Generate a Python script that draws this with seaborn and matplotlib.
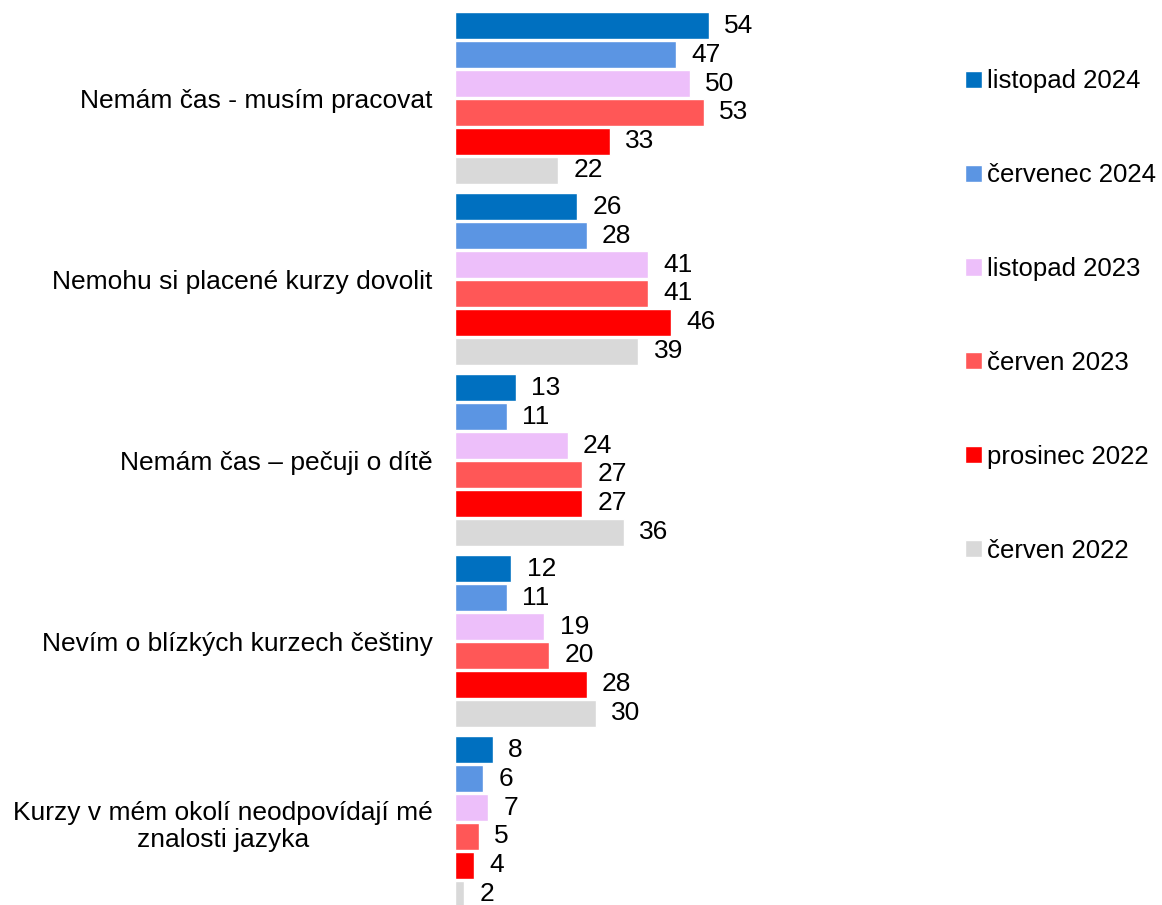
import pandas as pd
import numpy as np
import matplotlib
matplotlib.use("Agg")
import matplotlib.pyplot as plt
import seaborn as sns

# Kategorie a serie (hodnoty v %)
kategorie = [
    "Nemám čas - musím pracovat",
    "Nemohu si placené kurzy dovolit",
    "Nemám čas – pečuji o dítě",
    "Nevím o blízkých kurzech češtiny",
    "Kurzy v mém okolí neodpovídají mé\nznalosti jazyka",
]
obdobi = ["listopad 2024", "červenec 2024", "listopad 2023",
          "červen 2023", "prosinec 2022", "červen 2022"]

listopad_2024 = [54, 26, 13, 12, 8]
cervenec_2024 = [47, 28, 11, 11, 6]
listopad_2023 = [50, 41, 24, 19, 7]
cerven_2023 = [53, 41, 27, 20, 5]
prosinec_2022 = [33, 46, 27, 28, 4]
cerven_2022 = [22, 39, 36, 30, 2]

barvy = ["#0070C0", "#5B95E3", "#EDBFFA", "#FF5757", "#FF0000", "#D9D9D9"]

serie = [listopad_2024, cervenec_2024, listopad_2023, cerven_2023, prosinec_2022, cerven_2022]
rows = []
for o, vals in zip(obdobi, serie):
    for k, v in zip(kategorie, vals):
        rows.append({"kategorie": k, "obdobi": o, "hodnota": v})
df = pd.DataFrame(rows)

sns.set_style("white")
plt.rcParams["font.family"] = ["Liberation Sans", "DejaVu Sans"]
plt.rcParams["text.color"] = "black"
plt.rcParams["ytick.color"] = "black"

fig = plt.figure(figsize=(11.62, 9.05), dpi=100)
ax = fig.add_axes([455 / 1162, -0.0083, 470 / 1162, 1.0])

sns.barplot(data=df, y="kategorie", x="hodnota", hue="obdobi",
            hue_order=obdobi, order=kategorie, palette=barvy,
            width=0.96, gap=0.06, orient="h", ax=ax, errorbar=None,
            saturation=1, legend=True)

for cont in ax.containers:
    ax.bar_label(cont, fmt="%d", padding=11, fontsize=19, color="black")

ax.set_xlim(0, 100)
ax.set_ylim(4.5, -0.5)
ax.set_xlabel("")
ax.set_ylabel("")
ax.set_xticks([])
for s in ax.spines.values():
    s.set_visible(False)
ax.tick_params(axis="y", length=0, pad=16, labelsize=19, labelcolor="black")
for lbl in ax.get_yticklabels():
    lbl.set_multialignment("center")

handles, labels = ax.get_legend_handles_labels()
ax.legend_.remove()
fig.legend(handles, labels, loc="upper left", bbox_to_anchor=(955 / 1162, 1 - 59 / 905),
           frameon=False, fontsize=18.5, handlelength=0.65, handleheight=0.65,
           handletextpad=0.2, labelspacing=2.72, borderaxespad=0)

fig.savefig("out.png", dpi=100)
